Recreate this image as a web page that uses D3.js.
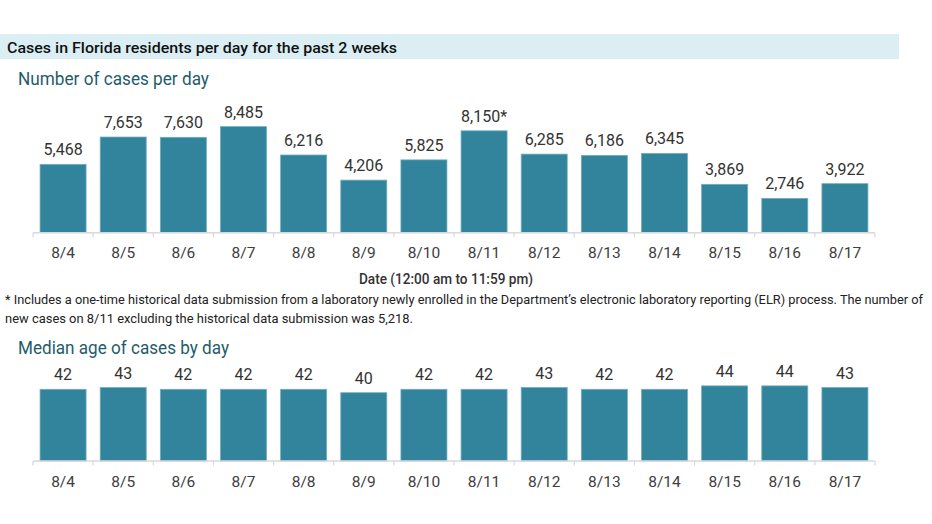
<!DOCTYPE html>
<html>
<head>
<meta charset="utf-8">
<script src="https://cdn.jsdelivr.net/npm/d3@7"></script>
<style>
  html, body { margin: 0; padding: 0; background: #fff; }
  svg { display: block; font-family: Roboto, "Liberation Sans", Arial, sans-serif; }
</style>
</head>
<body>
<svg id="chart" width="932" height="524"></svg>
<script>
const dates = ["8/4","8/5","8/6","8/7","8/8","8/9","8/10","8/11","8/12","8/13","8/14","8/15","8/16","8/17"];
const cases = [5468,7653,7630,8485,6216,4206,5825,8150,6285,6186,6345,3869,2746,3922];
const caseNotes = ["","","","","","","","*","","","","","",""];
const medianAge = [42,43,42,42,42,40,42,42,43,42,42,44,44,43];

const headerText = "Cases in Florida residents per day for the past 2 weeks";
const casesTitle = "Number of cases per day";
const xTitle = "Date (12:00 am to 11:59 pm)";
const footnote1 = "* Includes a one-time historical data submission from a laboratory newly enrolled in the Department\u2019s electronic laboratory reporting (ELR) process. The number of";
const footnote2 = "new cases on 8/11 excluding the historical data submission was 5,218.";
const ageTitle = "Median age of cases by day";

const svg = d3.select("#chart");
const barFill = "#31849b", barStroke = "#6eaec0";
const titleColor = "#1f5c6a", textColor = "#333333";

// header band
svg.append("rect").attr("x", 0).attr("y", 34).attr("width", 899).attr("height", 25).attr("fill", "#daeef3");
svg.append("text").attr("x", 7).attr("y", 52.5).attr("font-size", 15.5).attr("font-weight", 500)
  .attr("fill", "#111").attr("textLength", 390).attr("lengthAdjust", "spacingAndGlyphs").text(headerText);

function titleText(t, x, y, w) {
  svg.append("text").attr("x", x).attr("y", y).attr("font-size", 17.5).attr("fill", titleColor)
    .attr("textLength", w).attr("lengthAdjust", "spacingAndGlyphs").text(t);
}
titleText(casesTitle, 18, 84.5, 191);
titleText(ageTitle, 18, 353.5, 211);

const x = d3.scaleBand().domain(dates).range([33, 875]).paddingInner(0.235).paddingOuter(0.1175);

function drawChart(values, labels, y, baseY, tickLabelY) {
  const g = svg.append("g");
  g.selectAll("rect.bar").data(values).join("rect").attr("class", "bar")
    .attr("x", (d, i) => x(dates[i]))
    .attr("width", x.bandwidth())
    .attr("y", d => y(d))
    .attr("height", d => y(0) - y(d))
    .attr("fill", barFill).attr("stroke", barStroke).attr("stroke-width", 0.8);
  g.selectAll("text.val").data(values).join("text").attr("class", "val")
    .attr("x", (d, i) => x(dates[i]) + x.bandwidth() / 2)
    .attr("y", d => y(d) - 9)
    .attr("text-anchor", "middle").attr("font-size", 16).attr("font-weight", 400).attr("fill", textColor)
    .text((d, i) => labels[i]);
  // baseline axis
  const [r0, r1] = x.range();
  g.append("line").attr("x1", r0).attr("x2", r1).attr("y1", baseY).attr("y2", baseY)
    .attr("stroke", "#d9d9d9").attr("stroke-width", 1.5);
  const bounds = d3.range(dates.length + 1).map(i => r0 + i * x.step());
  g.selectAll("line.tick").data(bounds).join("line").attr("class", "tick")
    .attr("x1", d => d).attr("x2", d => d).attr("y1", baseY).attr("y2", baseY + 4.5)
    .attr("stroke", "#d9d9d9").attr("stroke-width", 1.2);
  g.selectAll("text.tl").data(dates).join("text").attr("class", "tl")
    .attr("x", d => x(d) + x.bandwidth() / 2).attr("y", tickLabelY)
    .attr("text-anchor", "middle").attr("font-size", 15.5).attr("fill", "#404040")
    .text(d => d);
}

const fmt = d3.format(",");
const yCases = d3.scaleLinear().domain([0, 10000]).range([232.7, 107.7]);
drawChart(cases, cases.map((d, i) => fmt(d) + caseNotes[i]), yCases, 232.7, 258.3);

const yAge = d3.scaleLinear().domain([0, 50]).range([461, 461 - 85.35]);
drawChart(medianAge, medianAge.map(d => String(d)), yAge, 461, 486.8);

svg.append("text").attr("x", 359).attr("y", 284).attr("font-size", 14.5).attr("font-weight", 500)
  .attr("fill", textColor).attr("textLength", 174).attr("lengthAdjust", "spacingAndGlyphs").text(xTitle);

function foot(t, y, w) {
  svg.append("text").attr("transform", `translate(5,${y}) scale(1,1.12)`)
    .attr("x", 0).attr("y", 0).attr("font-size", 11.6).attr("fill", "#222")
    .attr("textLength", w).attr("lengthAdjust", "spacingAndGlyphs").text(t);
}
foot(footnote1, 303.5, 918);
foot(footnote2, 322.5, 408);
</script>
</body>
</html>
